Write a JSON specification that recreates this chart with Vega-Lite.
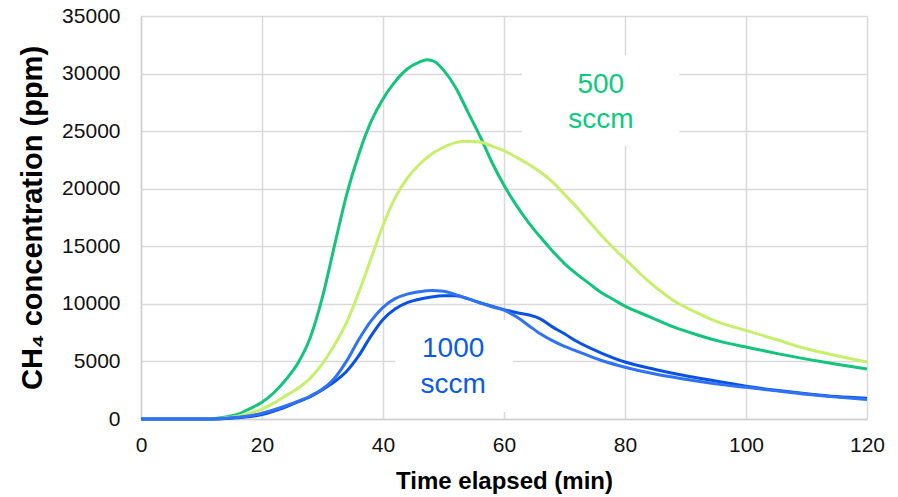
{
  "$schema": "https://vega.github.io/schema/vega-lite/v6.json",
  "width": 726,
  "height": 403,
  "autosize": {"type": "none"},
  "padding": {"left": 141, "top": 16, "right": 31, "bottom": 78},
  "background": "white",
  "config": {
    "view": {"stroke": null},
    "font": "Liberation Sans",
    "axis": {
      "grid": true,
      "gridColor": "#d9d9d9",
      "gridWidth": 1.5,
      "domainColor": "#d0d0d0",
      "domainWidth": 1.5,
      "ticks": false,
      "labelFont": "Liberation Sans",
      "labelFontSize": 21,
      "labelColor": "#111111",
      "labelFlush": false,
      "labelOverlap": false,
      "titleFont": "Liberation Sans",
      "titleFontWeight": "bold",
      "titleColor": "#000000"
    }
  },
  "datasets": {
    "curves": [
      {"t": 0, "ppm": 0, "s": "500 A"}, {"t": 10, "ppm": 0, "s": "500 A"}, {"t": 12, "ppm": 30, "s": "500 A"}, {"t": 14, "ppm": 170, "s": "500 A"}, {"t": 16, "ppm": 420, "s": "500 A"}, {"t": 18, "ppm": 900, "s": "500 A"}, {"t": 20, "ppm": 1450, "s": "500 A"}, {"t": 22, "ppm": 2300, "s": "500 A"}, {"t": 24, "ppm": 3450, "s": "500 A"}, {"t": 26, "ppm": 4900, "s": "500 A"}, {"t": 28, "ppm": 7100, "s": "500 A"}, {"t": 30, "ppm": 10600, "s": "500 A"}, {"t": 32, "ppm": 15100, "s": "500 A"}, {"t": 34, "ppm": 19500, "s": "500 A"}, {"t": 36, "ppm": 23000, "s": "500 A"}, {"t": 38, "ppm": 25800, "s": "500 A"}, {"t": 40, "ppm": 27800, "s": "500 A"}, {"t": 42, "ppm": 29300, "s": "500 A"}, {"t": 44, "ppm": 30400, "s": "500 A"}, {"t": 46, "ppm": 31000, "s": "500 A"}, {"t": 47.3, "ppm": 31200, "s": "500 A"}, {"t": 48.5, "ppm": 31050, "s": "500 A"}, {"t": 50, "ppm": 30300, "s": "500 A"}, {"t": 52, "ppm": 28800, "s": "500 A"}, {"t": 54, "ppm": 26700, "s": "500 A"}, {"t": 56, "ppm": 24600, "s": "500 A"}, {"t": 58, "ppm": 22300, "s": "500 A"}, {"t": 60, "ppm": 20300, "s": "500 A"}, {"t": 62, "ppm": 18600, "s": "500 A"}, {"t": 64, "ppm": 17100, "s": "500 A"}, {"t": 66, "ppm": 15800, "s": "500 A"}, {"t": 68, "ppm": 14600, "s": "500 A"}, {"t": 70, "ppm": 13500, "s": "500 A"}, {"t": 72, "ppm": 12600, "s": "500 A"}, {"t": 74, "ppm": 11800, "s": "500 A"}, {"t": 76, "ppm": 11000, "s": "500 A"}, {"t": 78, "ppm": 10400, "s": "500 A"}, {"t": 80, "ppm": 9800, "s": "500 A"}, {"t": 84, "ppm": 8900, "s": "500 A"}, {"t": 88, "ppm": 8000, "s": "500 A"}, {"t": 92, "ppm": 7300, "s": "500 A"}, {"t": 96, "ppm": 6700, "s": "500 A"}, {"t": 100, "ppm": 6250, "s": "500 A"}, {"t": 105, "ppm": 5700, "s": "500 A"}, {"t": 110, "ppm": 5200, "s": "500 A"}, {"t": 115, "ppm": 4750, "s": "500 A"}, {"t": 120, "ppm": 4350, "s": "500 A"},

      {"t": 0, "ppm": 0, "s": "500 B"}, {"t": 12, "ppm": 0, "s": "500 B"}, {"t": 14, "ppm": 100, "s": "500 B"}, {"t": 16, "ppm": 250, "s": "500 B"}, {"t": 18, "ppm": 500, "s": "500 B"}, {"t": 20, "ppm": 850, "s": "500 B"}, {"t": 22, "ppm": 1400, "s": "500 B"}, {"t": 24, "ppm": 2050, "s": "500 B"}, {"t": 26, "ppm": 2700, "s": "500 B"}, {"t": 28, "ppm": 3550, "s": "500 B"}, {"t": 30, "ppm": 4800, "s": "500 B"}, {"t": 32, "ppm": 6450, "s": "500 B"}, {"t": 34, "ppm": 8400, "s": "500 B"}, {"t": 36, "ppm": 11000, "s": "500 B"}, {"t": 38, "ppm": 13900, "s": "500 B"}, {"t": 40, "ppm": 16800, "s": "500 B"}, {"t": 42, "ppm": 19200, "s": "500 B"}, {"t": 44, "ppm": 20900, "s": "500 B"}, {"t": 46, "ppm": 22100, "s": "500 B"}, {"t": 48, "ppm": 23000, "s": "500 B"}, {"t": 50, "ppm": 23600, "s": "500 B"}, {"t": 52, "ppm": 24000, "s": "500 B"}, {"t": 54, "ppm": 24120, "s": "500 B"}, {"t": 56, "ppm": 24050, "s": "500 B"}, {"t": 58, "ppm": 23700, "s": "500 B"}, {"t": 60, "ppm": 23300, "s": "500 B"}, {"t": 62, "ppm": 22750, "s": "500 B"}, {"t": 64, "ppm": 22150, "s": "500 B"}, {"t": 66, "ppm": 21450, "s": "500 B"}, {"t": 68, "ppm": 20600, "s": "500 B"}, {"t": 70, "ppm": 19500, "s": "500 B"}, {"t": 72, "ppm": 18400, "s": "500 B"}, {"t": 74, "ppm": 17200, "s": "500 B"}, {"t": 76, "ppm": 16000, "s": "500 B"}, {"t": 78, "ppm": 14900, "s": "500 B"}, {"t": 80, "ppm": 13900, "s": "500 B"}, {"t": 84, "ppm": 11900, "s": "500 B"}, {"t": 88, "ppm": 10300, "s": "500 B"}, {"t": 92, "ppm": 9200, "s": "500 B"}, {"t": 96, "ppm": 8300, "s": "500 B"}, {"t": 100, "ppm": 7700, "s": "500 B"}, {"t": 105, "ppm": 6900, "s": "500 B"}, {"t": 110, "ppm": 6100, "s": "500 B"}, {"t": 115, "ppm": 5500, "s": "500 B"}, {"t": 120, "ppm": 4950, "s": "500 B"},

      {"t": 0, "ppm": 0, "s": "1000 B"}, {"t": 12, "ppm": 0, "s": "1000 B"}, {"t": 14, "ppm": 40, "s": "1000 B"}, {"t": 16, "ppm": 100, "s": "1000 B"}, {"t": 18, "ppm": 220, "s": "1000 B"}, {"t": 20, "ppm": 380, "s": "1000 B"}, {"t": 22, "ppm": 680, "s": "1000 B"}, {"t": 24, "ppm": 1050, "s": "1000 B"}, {"t": 26, "ppm": 1500, "s": "1000 B"}, {"t": 28, "ppm": 1950, "s": "1000 B"}, {"t": 30, "ppm": 2550, "s": "1000 B"}, {"t": 32, "ppm": 3250, "s": "1000 B"}, {"t": 34, "ppm": 4150, "s": "1000 B"}, {"t": 36, "ppm": 5500, "s": "1000 B"}, {"t": 38, "ppm": 7200, "s": "1000 B"}, {"t": 40, "ppm": 8650, "s": "1000 B"}, {"t": 42, "ppm": 9550, "s": "1000 B"}, {"t": 44, "ppm": 10100, "s": "1000 B"}, {"t": 46, "ppm": 10400, "s": "1000 B"}, {"t": 48, "ppm": 10600, "s": "1000 B"}, {"t": 50, "ppm": 10700, "s": "1000 B"}, {"t": 52, "ppm": 10700, "s": "1000 B"}, {"t": 54, "ppm": 10450, "s": "1000 B"}, {"t": 56, "ppm": 10100, "s": "1000 B"}, {"t": 58, "ppm": 9800, "s": "1000 B"}, {"t": 60, "ppm": 9500, "s": "1000 B"}, {"t": 62, "ppm": 9250, "s": "1000 B"}, {"t": 64, "ppm": 9050, "s": "1000 B"}, {"t": 66, "ppm": 8700, "s": "1000 B"}, {"t": 68, "ppm": 8000, "s": "1000 B"}, {"t": 70, "ppm": 7400, "s": "1000 B"}, {"t": 72, "ppm": 6750, "s": "1000 B"}, {"t": 76, "ppm": 5750, "s": "1000 B"}, {"t": 80, "ppm": 4950, "s": "1000 B"}, {"t": 85, "ppm": 4300, "s": "1000 B"}, {"t": 90, "ppm": 3750, "s": "1000 B"}, {"t": 95, "ppm": 3300, "s": "1000 B"}, {"t": 100, "ppm": 2850, "s": "1000 B"}, {"t": 105, "ppm": 2500, "s": "1000 B"}, {"t": 110, "ppm": 2200, "s": "1000 B"}, {"t": 115, "ppm": 1950, "s": "1000 B"}, {"t": 120, "ppm": 1800, "s": "1000 B"},

      {"t": 0, "ppm": 0, "s": "1000 A"}, {"t": 12, "ppm": 0, "s": "1000 A"}, {"t": 14, "ppm": 60, "s": "1000 A"}, {"t": 16, "ppm": 150, "s": "1000 A"}, {"t": 18, "ppm": 280, "s": "1000 A"}, {"t": 20, "ppm": 500, "s": "1000 A"}, {"t": 22, "ppm": 800, "s": "1000 A"}, {"t": 24, "ppm": 1150, "s": "1000 A"}, {"t": 26, "ppm": 1550, "s": "1000 A"}, {"t": 28, "ppm": 2000, "s": "1000 A"}, {"t": 30, "ppm": 2600, "s": "1000 A"}, {"t": 32, "ppm": 3550, "s": "1000 A"}, {"t": 34, "ppm": 5050, "s": "1000 A"}, {"t": 36, "ppm": 6900, "s": "1000 A"}, {"t": 38, "ppm": 8500, "s": "1000 A"}, {"t": 40, "ppm": 9700, "s": "1000 A"}, {"t": 42, "ppm": 10450, "s": "1000 A"}, {"t": 44, "ppm": 10850, "s": "1000 A"}, {"t": 46, "ppm": 11050, "s": "1000 A"}, {"t": 48, "ppm": 11150, "s": "1000 A"}, {"t": 50, "ppm": 11100, "s": "1000 A"}, {"t": 52, "ppm": 10800, "s": "1000 A"}, {"t": 54, "ppm": 10450, "s": "1000 A"}, {"t": 56, "ppm": 10100, "s": "1000 A"}, {"t": 58, "ppm": 9750, "s": "1000 A"}, {"t": 60, "ppm": 9450, "s": "1000 A"}, {"t": 62, "ppm": 8900, "s": "1000 A"}, {"t": 64, "ppm": 8150, "s": "1000 A"}, {"t": 66, "ppm": 7400, "s": "1000 A"}, {"t": 68, "ppm": 6800, "s": "1000 A"}, {"t": 70, "ppm": 6300, "s": "1000 A"}, {"t": 72, "ppm": 5900, "s": "1000 A"}, {"t": 76, "ppm": 5100, "s": "1000 A"}, {"t": 80, "ppm": 4500, "s": "1000 A"}, {"t": 85, "ppm": 3900, "s": "1000 A"}, {"t": 90, "ppm": 3450, "s": "1000 A"}, {"t": 95, "ppm": 3050, "s": "1000 A"}, {"t": 100, "ppm": 2750, "s": "1000 A"}, {"t": 105, "ppm": 2450, "s": "1000 A"}, {"t": 110, "ppm": 2150, "s": "1000 A"}, {"t": 115, "ppm": 1900, "s": "1000 A"}, {"t": 120, "ppm": 1700, "s": "1000 A"}
    ],
    "boxes": [
      {"x1": 63, "x2": 89, "y1": 23700, "y2": 31600},
      {"x1": 42, "x2": 61.5, "y1": 600, "y2": 8600}
    ],
    "labels": [
      {"t": 76, "ppm": 28280, "text": "500", "s": "500 label"},
      {"t": 76, "ppm": 25250, "text": "sccm", "s": "500 label"},
      {"t": 51.6, "ppm": 5380, "text": "1000", "s": "1000 label"},
      {"t": 51.6, "ppm": 2260, "text": "sccm", "s": "1000 label"}
    ]
  },
  "layer": [
    {
      "data": {"name": "boxes"},
      "mark": {"type": "rect", "fill": "white", "stroke": null},
      "encoding": {
        "x": {"field": "x1", "type": "quantitative", "scale": {"domain": [0, 120], "nice": false}, "axis": {"values": [0, 20, 40, 60, 80, 100, 120], "format": "d", "title": "Time elapsed (min)", "titleFontSize": 24, "labelPadding": 15, "titlePadding": 14}},
        "x2": {"field": "x2"},
        "y": {"field": "y1", "type": "quantitative", "scale": {"domain": [0, 35000], "nice": false}, "axis": {"values": [0, 5000, 10000, 15000, 20000, 25000, 30000, 35000], "format": "d", "title": "CH₄ concentration (ppm)", "titleFontSize": 29, "labelPadding": 21, "titlePadding": 14}},
        "y2": {"field": "y2"}
      }
    },
    {
      "data": {"name": "curves"},
      "mark": {"type": "line", "strokeWidth": 3, "interpolate": "monotone"},
      "encoding": {
        "x": {"field": "t", "type": "quantitative"},
        "y": {"field": "ppm", "type": "quantitative"},
        "color": {"field": "s", "type": "nominal", "legend": null,
          "scale": {"domain": ["500 B", "500 A", "1000 B", "1000 A", "500 label", "1000 label"],
                    "range": ["#c6f06c", "#12c47c", "#0a52e6", "#2f72f4", "#0acb80", "#0a5ae8"]}},
        "order": {"field": "t", "type": "quantitative"}
      }
    },
    {
      "data": {"name": "labels"},
      "mark": {"type": "text", "fontSize": 28, "align": "center", "baseline": "alphabetic", "font": "Liberation Sans"},
      "encoding": {
        "x": {"field": "t", "type": "quantitative"},
        "y": {"field": "ppm", "type": "quantitative"},
        "text": {"field": "text"},
        "color": {"field": "s", "type": "nominal", "legend": null}
      }
    }
  ]
}
